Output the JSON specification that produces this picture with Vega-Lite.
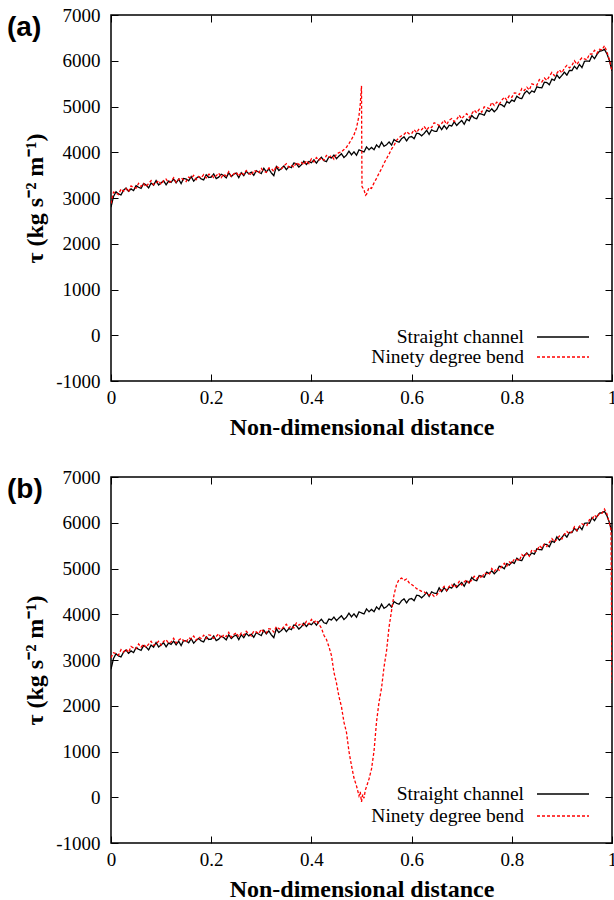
{
"$schema":"https://vega.github.io/schema/vega-lite/v6.json",
"padding":{"left":6,"top":5,"right":0,"bottom":0},
"background":"white",
"datasets":{"d":[
{"x":0,"s":2800,"a":2880,"b":3050},
{"x":0.005,"s":3033,"a":3128,"b":3158},
{"x":0.01,"s":3136,"a":3111,"b":3141},
{"x":0.015,"s":3089,"a":3074,"b":3104},
{"x":0.02,"s":3067,"a":3197,"b":3227},
{"x":0.025,"s":3170,"a":3145,"b":3175},
{"x":0.03,"s":3218,"a":3208,"b":3238},
{"x":0.035,"s":3146,"a":3136,"b":3166},
{"x":0.04,"s":3199,"a":3264,"b":3294},
{"x":0.045,"s":3162,"a":3232,"b":3262},
{"x":0.05,"s":3270,"a":3215,"b":3245},
{"x":0.055,"s":3235,"a":3320,"b":3350},
{"x":0.06,"s":3210,"a":3250,"b":3280},
{"x":0.065,"s":3315,"a":3315,"b":3345},
{"x":0.07,"s":3285,"a":3245,"b":3275},
{"x":0.075,"s":3220,"a":3315,"b":3345},
{"x":0.08,"s":3325,"a":3380,"b":3410},
{"x":0.085,"s":3280,"a":3290,"b":3320},
{"x":0.09,"s":3380,"a":3325,"b":3355},
{"x":0.095,"s":3285,"a":3380,"b":3410},
{"x":0.1,"s":3330,"a":3295,"b":3325},
{"x":0.105,"s":3377,"a":3377,"b":3407},
{"x":0.11,"s":3289,"a":3414,"b":3444},
{"x":0.115,"s":3371,"a":3336,"b":3366},
{"x":0.12,"s":3343,"a":3363,"b":3393},
{"x":0.125,"s":3415,"a":3445,"b":3475},
{"x":0.13,"s":3332,"a":3342,"b":3372},
{"x":0.135,"s":3409,"a":3404,"b":3434},
{"x":0.14,"s":3316,"a":3441,"b":3471},
{"x":0.145,"s":3428,"a":3393,"b":3423},
{"x":0.15,"s":3415,"a":3360,"b":3390},
{"x":0.155,"s":3376,"a":3456,"b":3486},
{"x":0.16,"s":3467,"a":3432,"b":3462},
{"x":0.165,"s":3368,"a":3493,"b":3523},
{"x":0.17,"s":3429,"a":3404,"b":3434},
{"x":0.175,"s":3470,"a":3470,"b":3500},
{"x":0.18,"s":3416,"a":3441,"b":3471},
{"x":0.185,"s":3397,"a":3512,"b":3542},
{"x":0.19,"s":3508,"a":3438,"b":3468},
{"x":0.195,"s":3449,"a":3519,"b":3549},
{"x":0.2,"s":3455,"a":3510,"b":3540},
{"x":0.205,"s":3525,"a":3445,"b":3475},
{"x":0.21,"s":3425,"a":3485,"b":3515},
{"x":0.215,"s":3455,"a":3545,"b":3575},
{"x":0.22,"s":3520,"a":3445,"b":3475},
{"x":0.225,"s":3490,"a":3520,"b":3550},
{"x":0.23,"s":3440,"a":3480,"b":3510},
{"x":0.235,"s":3550,"a":3575,"b":3605},
{"x":0.24,"s":3470,"a":3470,"b":3500},
{"x":0.245,"s":3520,"a":3525,"b":3555},
{"x":0.25,"s":3545,"a":3565,"b":3595},
{"x":0.255,"s":3446,"a":3476,"b":3506},
{"x":0.26,"s":3552,"a":3562,"b":3592},
{"x":0.265,"s":3488,"a":3513,"b":3543},
{"x":0.27,"s":3584,"a":3599,"b":3629},
{"x":0.275,"s":3525,"a":3545,"b":3575},
{"x":0.28,"s":3566,"a":3496,"b":3526},
{"x":0.285,"s":3497,"a":3602,"b":3632},
{"x":0.29,"s":3598,"a":3583,"b":3613},
{"x":0.295,"s":3564,"a":3544,"b":3574},
{"x":0.3,"s":3535,"a":3645,"b":3675},
{"x":0.305,"s":3650,"a":3580,"b":3610},
{"x":0.31,"s":3570,"a":3560,"b":3590},
{"x":0.315,"s":3635,"a":3655,"b":3685},
{"x":0.32,"s":3550,"a":3645,"b":3675},
{"x":0.325,"s":3490,"a":3580,"b":3610},
{"x":0.33,"s":3685,"a":3700,"b":3730},
{"x":0.335,"s":3600,"a":3655,"b":3685},
{"x":0.34,"s":3645,"a":3635,"b":3665},
{"x":0.345,"s":3700,"a":3700,"b":3730},
{"x":0.35,"s":3620,"a":3750,"b":3780},
{"x":0.355,"s":3687,"a":3672,"b":3702},
{"x":0.36,"s":3664,"a":3714,"b":3744},
{"x":0.365,"s":3766,"a":3671,"b":3701},
{"x":0.37,"s":3748,"a":3778,"b":3808},
{"x":0.375,"s":3675,"a":3730,"b":3760},
{"x":0.38,"s":3727,"a":3777,"b":3807},
{"x":0.385,"s":3804,"a":3724,"b":3754},
{"x":0.39,"s":3731,"a":3816,"b":3846},
{"x":0.395,"s":3798,"a":3753,"b":3783},
{"x":0.4,"s":3770,"a":3855,"b":3885},
{"x":0.405,"s":3836,"a":3791,"b":3821},
{"x":0.41,"s":3762,"a":3882,"b":3870},
{"x":0.415,"s":3838,"a":3828,"b":3780},
{"x":0.42,"s":3889,"a":3874,"b":3700},
{"x":0.425,"s":3815,"a":3825,"b":3540},
{"x":0.43,"s":3796,"a":3931,"b":3450},
{"x":0.435,"s":3897,"a":3887,"b":3290},
{"x":0.44,"s":3873,"a":3928,"b":3100},
{"x":0.445,"s":3939,"a":3849,"b":2730},
{"x":0.45,"s":3860,"a":3960,"b":2500},
{"x":0.455,"s":3918,"a":3990,"b":2200},
{"x":0.46,"s":3966,"a":4010,"b":1980},
{"x":0.465,"s":3884,"a":4060,"b":1640},
{"x":0.47,"s":3937,"a":4110,"b":1420},
{"x":0.475,"s":4025,"a":4190,"b":1000},
{"x":0.48,"s":3943,"a":4280,"b":690},
{"x":0.485,"s":4011,"a":4380,"b":420},
{"x":0.49,"s":3934,"a":4530,"b":250},
{"x":0.495,"s":4052,"a":4800,"b":30},
{"x":0.4975,"a":5050,"b":120},
{"x":0.5,"s":4030,"a":5450,"b":-100},
{"x":0.5005,"a":4200},
{"x":0.501,"a":3250},
{"x":0.5025,"b":60},
{"x":0.505,"s":4005,"a":3180,"b":-20},
{"x":0.5075,"b":150},
{"x":0.508,"a":3060},
{"x":0.51,"s":4115,"a":3080,"b":230},
{"x":0.515,"s":4055,"a":3230,"b":400},
{"x":0.52,"s":4105,"a":3210,"b":620},
{"x":0.525,"s":4055,"a":3330,"b":1010},
{"x":0.53,"s":4160,"a":3430,"b":1650},
{"x":0.535,"s":4105,"a":3540,"b":2080},
{"x":0.54,"s":4220,"a":3640,"b":2390},
{"x":0.545,"s":4130,"a":3760,"b":2850},
{"x":0.55,"s":4165,"a":3860,"b":3200},
{"x":0.555,"s":4226,"a":3960,"b":3720},
{"x":0.56,"s":4157,"a":4070,"b":4080},
{"x":0.565,"s":4278,"a":4150,"b":4430},
{"x":0.57,"s":4239,"a":4260,"b":4650},
{"x":0.575,"s":4220,"a":4320,"b":4760},
{"x":0.58,"s":4296,"a":4360,"b":4790},
{"x":0.585,"s":4337,"a":4390,"b":4740},
{"x":0.59,"s":4248,"a":4450,"b":4770},
{"x":0.595,"s":4329,"a":4404,"b":4690},
{"x":0.6,"s":4345,"a":4405,"b":4650},
{"x":0.605,"s":4295,"a":4495,"b":4610},
{"x":0.61,"s":4415,"a":4430,"b":4560},
{"x":0.615,"s":4405,"a":4510,"b":4530},
{"x":0.62,"s":4360,"a":4490,"b":4500},
{"x":0.625,"s":4410,"a":4565,"b":4490},
{"x":0.63,"s":4480,"a":4485,"b":4440},
{"x":0.635,"s":4390,"a":4555,"b":4420},
{"x":0.64,"s":4490,"a":4540,"b":4450},
{"x":0.645,"s":4460,"a":4645,"b":4390},
{"x":0.65,"s":4455,"a":4620,"b":4420},
{"x":0.655,"s":4577,"a":4582,"b":4492},
{"x":0.66,"s":4494,"a":4629,"b":4539},
{"x":0.665,"s":4581,"a":4701,"b":4611},
{"x":0.67,"s":4508,"a":4608,"b":4518},
{"x":0.675,"s":4590,"a":4700,"b":4610},
{"x":0.68,"s":4572,"a":4737,"b":4647},
{"x":0.685,"s":4664,"a":4669,"b":4579},
{"x":0.69,"s":4586,"a":4716,"b":4626},
{"x":0.695,"s":4643,"a":4808,"b":4718},
{"x":0.7,"s":4695,"a":4730,"b":4640},
{"x":0.705,"s":4611,"a":4796,"b":4706},
{"x":0.71,"s":4722,"a":4842,"b":4752},
{"x":0.715,"s":4688,"a":4763,"b":4673},
{"x":0.72,"s":4804,"a":4839,"b":4749},
{"x":0.725,"s":4750,"a":4920,"b":4830},
{"x":0.73,"s":4731,"a":4861,"b":4771},
{"x":0.735,"s":4847,"a":4937,"b":4847},
{"x":0.74,"s":4833,"a":4878,"b":4788},
{"x":0.745,"s":4809,"a":4994,"b":4904},
{"x":0.75,"s":4920,"a":4980,"b":4890},
{"x":0.755,"s":4890,"a":4955,"b":4865},
{"x":0.76,"s":4950,"a":5090,"b":5000},
{"x":0.765,"s":4885,"a":5025,"b":4935},
{"x":0.77,"s":4940,"a":5095,"b":5005},
{"x":0.775,"s":5050,"a":5050,"b":4960},
{"x":0.78,"s":5035,"a":5135,"b":5045},
{"x":0.785,"s":4995,"a":5205,"b":5115},
{"x":0.79,"s":5105,"a":5140,"b":5050},
{"x":0.795,"s":5075,"a":5235,"b":5145},
{"x":0.8,"s":5140,"a":5200,"b":5110},
{"x":0.805,"s":5112,"a":5297,"b":5207},
{"x":0.81,"s":5224,"a":5289,"b":5199},
{"x":0.815,"s":5186,"a":5261,"b":5171},
{"x":0.82,"s":5173,"a":5393,"b":5303},
{"x":0.825,"s":5285,"a":5350,"b":5260},
{"x":0.83,"s":5342,"a":5422,"b":5332},
{"x":0.835,"s":5279,"a":5359,"b":5269},
{"x":0.84,"s":5341,"a":5496,"b":5406},
{"x":0.845,"s":5313,"a":5473,"b":5383},
{"x":0.85,"s":5430,"a":5465,"b":5375},
{"x":0.855,"s":5414,"a":5589,"b":5499},
{"x":0.86,"s":5408,"a":5538,"b":5448},
{"x":0.865,"s":5532,"a":5622,"b":5532},
{"x":0.87,"s":5521,"a":5571,"b":5481},
{"x":0.875,"s":5475,"a":5660,"b":5570},
{"x":0.88,"s":5599,"a":5744,"b":5654},
{"x":0.885,"s":5573,"a":5673,"b":5583},
{"x":0.89,"s":5692,"a":5727,"b":5637},
{"x":0.895,"s":5616,"a":5801,"b":5711},
{"x":0.9,"s":5680,"a":5735,"b":5645},
{"x":0.905,"s":5750,"a":5840,"b":5750},
{"x":0.91,"s":5685,"a":5900,"b":5810},
{"x":0.915,"s":5790,"a":5845,"b":5755},
{"x":0.92,"s":5785,"a":5895,"b":5805},
{"x":0.925,"s":5880,"a":6000,"b":5910},
{"x":0.93,"s":5820,"a":5920,"b":5830},
{"x":0.935,"s":5920,"a":6005,"b":5915},
{"x":0.94,"s":5850,"a":6065,"b":5975},
{"x":0.945,"s":5985,"a":6040,"b":5950},
{"x":0.95,"s":5995,"a":6020,"b":5940},
{"x":0.955,"s":5988,"a":6148,"b":6068},
{"x":0.96,"s":6111,"a":6146,"b":6076},
{"x":0.965,"s":6044,"a":6229,"b":6169},
{"x":0.97,"s":6137,"a":6162,"b":6112},
{"x":0.975,"s":6210,"a":6250,"b":6210},
{"x":0.98,"s":6220,"a":6235,"b":6205},
{"x":0.985,"s":6250,"a":6330,"b":6300},
{"x":0.99,"s":6150,"a":6190,"b":6190},
{"x":0.995,"s":6000,"a":6020,"b":5980},
{"x":0.998,"b":5850},
{"x":1,"s":5780,"a":5760,"b":2500}
]},
"vconcat":[
{
"width":501,"height":366,
"title":{"text":"(a)","anchor":"start","frame":"group","orient":"top","baseline":"top","offset":-36,"dx":-104,"font":"Liberation Sans","fontSize":28,"fontWeight":"bold","color":"#000"},
"layer":[
{"data":{"name":"d"},
"transform":[{"fold":["s","a"],"as":["series","tau"]},{"filter":"isValid(datum.tau)"}],
"mark":{"type":"line","strokeWidth":1.3,"clip":true},
"encoding":{
"x":{"field":"x","type":"quantitative","scale":{"domain":[0,1],"nice":false,"zero":false},"axis":{"orient":"bottom","values":[0,0.2,0.4,0.6,0.8,1],"labelExpr":"'' + datum.value","title":"Non-dimensional distance","grid":false,"domain":false,"labelFlush":false,"labelPadding":14,"titlePadding":8,"labelFont":"Liberation Serif","labelFontSize":19,"labelColor":"#000","titleFont":"Liberation Serif","titleFontSize":24,"titleFontWeight":"bold","titleColor":"#000"}},
"y":{"field":"tau","type":"quantitative","scale":{"domain":[-1000,7000],"nice":false,"zero":false},"axis":{"orient":"left","values":[-1000,0,1000,2000,3000,4000,5000,6000,7000],"labelExpr":"'' + datum.value","title":"τ (kg s⁻² m⁻¹)","grid":false,"domain":false,"labelFlush":false,"labelPadding":18,"labelFont":"Liberation Serif","labelFontSize":19,"labelColor":"#000","titleFont":"Liberation Serif","titleFontSize":24,"titleFontWeight":"bold","titleColor":"#000"}},
"color":{"field":"series","type":"nominal","scale":{"domain":["s","a"],"range":["#000000","#ff0000"]},"legend":{"values":["s"],"orient":"none","legendX":425,"legendY":295,"title":null,"labelExpr":"'Straight channel'"}},
"strokeDash":{"field":"series","type":"nominal","scale":{"domain":["a","s"],"range":[[3,2],[1,0]]},"legend":{"values":["a"],"orient":"none","legendX":425,"legendY":315,"title":null,"labelExpr":"'Ninety degree bend'","symbolStrokeColor":"#ff0000"}}
}},
{"data":{"name":"d"},"transform":[{"filter":"false"}],"mark":{"type":"rule"},
"encoding":{
"x":{"field":"x","type":"quantitative","axis":{"orient":"top","values":[0,0.2,0.4,0.6,0.8,1],"labels":false,"title":null,"grid":false,"domain":false}},
"y":{"field":"s","type":"quantitative","axis":{"orient":"right","values":[-1000,0,1000,2000,3000,4000,5000,6000,7000],"labels":false,"title":null,"grid":false,"domain":false}}
}}
],
"resolve":{"axis":{"x":"independent","y":"independent"}}
},
{
"width":501,"height":366,
"title":{"text":"(b)","anchor":"start","frame":"group","orient":"top","baseline":"top","offset":-36,"dx":-104,"font":"Liberation Sans","fontSize":28,"fontWeight":"bold","color":"#000"},
"layer":[
{"data":{"name":"d"},
"transform":[{"fold":["s","b"],"as":["series","tau"]},{"filter":"isValid(datum.tau)"}],
"mark":{"type":"line","strokeWidth":1.3,"clip":true},
"encoding":{
"x":{"field":"x","type":"quantitative","scale":{"domain":[0,1],"nice":false,"zero":false},"axis":{"orient":"bottom","values":[0,0.2,0.4,0.6,0.8,1],"labelExpr":"'' + datum.value","title":"Non-dimensional distance","grid":false,"domain":false,"labelFlush":false,"labelPadding":14,"titlePadding":8,"labelFont":"Liberation Serif","labelFontSize":19,"labelColor":"#000","titleFont":"Liberation Serif","titleFontSize":24,"titleFontWeight":"bold","titleColor":"#000"}},
"y":{"field":"tau","type":"quantitative","scale":{"domain":[-1000,7000],"nice":false,"zero":false},"axis":{"orient":"left","values":[-1000,0,1000,2000,3000,4000,5000,6000,7000],"labelExpr":"'' + datum.value","title":"τ (kg s⁻² m⁻¹)","grid":false,"domain":false,"labelFlush":false,"labelPadding":18,"labelFont":"Liberation Serif","labelFontSize":19,"labelColor":"#000","titleFont":"Liberation Serif","titleFontSize":24,"titleFontWeight":"bold","titleColor":"#000"}},
"color":{"field":"series","type":"nominal","scale":{"domain":["s","b"],"range":["#000000","#ff0000"]},"legend":{"values":["s"],"orient":"none","legendX":425,"legendY":290,"title":null,"labelExpr":"'Straight channel'"}},
"strokeDash":{"field":"series","type":"nominal","scale":{"domain":["b","s"],"range":[[3,2],[1,0]]},"legend":{"values":["b"],"orient":"none","legendX":425,"legendY":312,"title":null,"labelExpr":"'Ninety degree bend'","symbolStrokeColor":"#ff0000"}}
}},
{"data":{"name":"d"},"transform":[{"filter":"false"}],"mark":{"type":"rule"},
"encoding":{
"x":{"field":"x","type":"quantitative","axis":{"orient":"top","values":[0,0.2,0.4,0.6,0.8,1],"labels":false,"title":null,"grid":false,"domain":false}},
"y":{"field":"s","type":"quantitative","axis":{"orient":"right","values":[-1000,0,1000,2000,3000,4000,5000,6000,7000],"labels":false,"title":null,"grid":false,"domain":false}}
}}
],
"resolve":{"axis":{"x":"independent","y":"independent"}}
}
],
"spacing":27,
"resolve":{"legend":{"color":"independent","strokeDash":"independent"},"scale":{"color":"independent","strokeDash":"independent"}},
"config":{
"view":{"stroke":"#000","strokeWidth":1.5},
"style":{"guide-label":{"font":"Liberation Serif","fontSize":19,"fill":"#000"},"guide-title":{"font":"Liberation Serif","fontSize":24,"fontWeight":"bold","fill":"#000"}},
"axis":{"tickSize":-7,"tickColor":"#000","tickWidth":1,"titlePadding":8},
"legend":{"padding":0,"symbolType":"stroke","symbolSize":2704,"symbolStrokeWidth":1.3,"labelAlign":"right","labelOffset":-66,"labelFont":"Liberation Serif","labelFontSize":19.5,"labelColor":"#000","labelLimit":300}
}
}
